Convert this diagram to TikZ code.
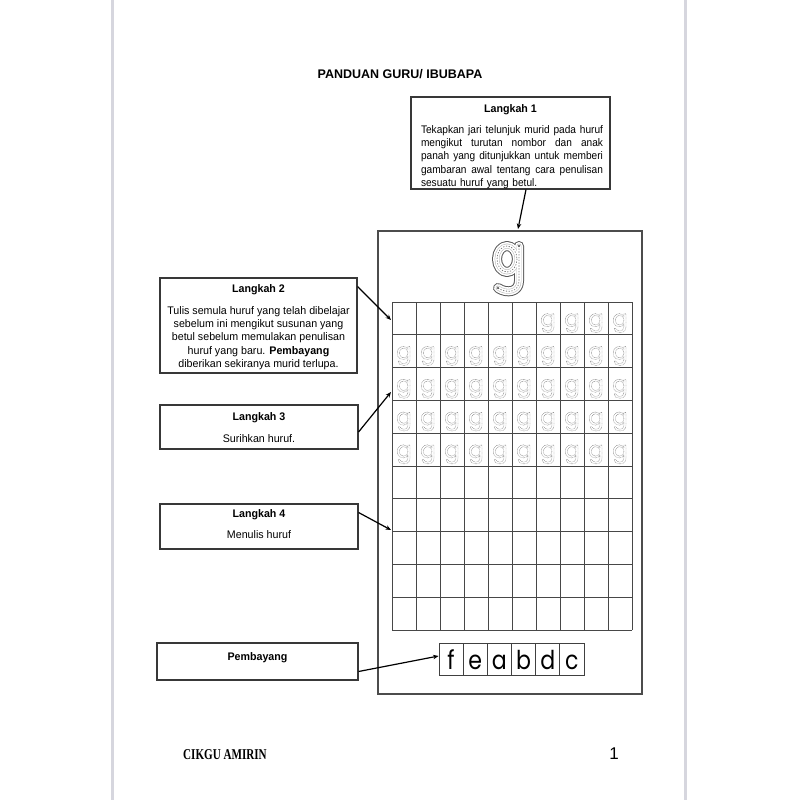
\documentclass[tikz,border=0pt]{standalone}
\usepackage{fontspec}
\setmainfont{Liberation Sans}
\newfontfamily\bodyfont[FakeStretch=0.97]{Liberation Sans}
\newfontfamily\tightfont[FakeStretch=0.92]{Liberation Sans}
\newfontfamily\letterfont[FakeStretch=0.85]{Poppins}
\newfontfamily\gfont{Poppins}
\newfontfamily\footfont{Liberation Serif}
\usetikzlibrary{arrows.meta}
\definecolor{pageedge}{RGB}{214,214,222}
\newcommand\tracedg{{\special{pdf:literal direct 1 Tr 0.45 w [0.55 0.75] 0 d 0.45 G}g\special{pdf:literal direct 0 Tr [] 0 d 0 G}}}
\newcommand\jline[1]{\makebox[182pt][s]{\spaceskip=0.25em plus 1fil\relax #1}}
\tikzset{
  infobox/.style={draw=black!78, line width=1.1pt, inner sep=0pt, fill=white},
  headtxt/.style={font=\bodyfont\fontsize{11}{13}\selectfont\bfseries, inner sep=0pt},
  bodytxt/.style={font=\bodyfont\fontsize{11}{13.2}\selectfont, inner sep=0pt},
  gridline/.style={draw=black!72, line width=0.9pt},
  connector/.style={draw=black, line width=1.2pt, -{Stealth[length=5.5pt,width=4.5pt]}},
  traceg/.style={font=\gfont\fontsize{23}{23}\selectfont, inner sep=0pt, anchor=base},
  letterbox/.style={draw=black!75, line width=0.9pt, minimum width=24.17pt, minimum height=32pt, inner sep=0pt, text height=20pt, text depth=0pt, font=\letterfont\fontsize{26}{26}\selectfont}
}
\begin{document}
\begin{tikzpicture}[x=1pt,y=-1pt]
\useasboundingbox (0,0) rectangle (800,800);
\fill[white] (0,0) rectangle (800,800);
% page edges
\draw[pageedge, line width=3pt] (112,0) -- (112,800);
\draw[pageedge, line width=3pt] (685,0) -- (685,800);

% title
\node[font=\fontsize{12.5}{14}\selectfont\bfseries, inner sep=0pt] (title) at (400,74) {PANDUAN GURU/ IBUBAPA};

% Langkah 1
\node[infobox, minimum width=199pt, minimum height=92pt] (l1) at (510.5,143) {};
\node[headtxt] (l1h) at (510.5,110) {Langkah 1};
\node[bodytxt, font=\tightfont\fontsize{11}{13.4}\selectfont, text width=182pt, align=left] (l1b) at (512,157) {%
\jline{Tekapkan jari telunjuk murid pada huruf}\\
\jline{mengikut turutan nombor dan anak}\\
\jline{panah yang ditunjukkan untuk memberi}\\
\jline{gambaran awal tentang cara penulisan}\\
sesuatu huruf yang betul.};

% Langkah 2
\node[infobox, minimum width=197pt, minimum height=95pt] (l2) at (258.5,325.5) {};
\node[headtxt] (l2h) at (258.5,290) {Langkah 2};
\node[bodytxt, align=center] (l2b) at (258.5,338) {Tulis semula huruf yang telah dibelajar\\
sebelum ini mengikut susunan yang\\
betul sebelum memulakan penulisan\\
huruf yang baru. \textbf{Pembayang}\\
diberikan sekiranya murid terlupa.};

% Langkah 3
\node[infobox, minimum width=198pt, minimum height=44pt] (l3) at (259,427) {};
\node[headtxt] (l3h) at (259,418) {Langkah 3};
\node[bodytxt] (l3b) at (259,438.5) {Surihkan huruf.};

% Langkah 4
\node[infobox, minimum width=198pt, minimum height=45pt] (l4) at (259,526.5) {};
\node[headtxt] (l4h) at (259,515) {Langkah 4};
\node[bodytxt] (l4b) at (259,535) {Menulis huruf};

% Pembayang
\node[infobox, minimum width=201pt, minimum height=37pt] (pb) at (257.5,661.5) {};
\node[headtxt] (pbh) at (257.5,658) {Pembayang};

% worksheet frame
\node[draw=black!70, line width=1.5pt, minimum width=264pt, minimum height=463pt, inner sep=0pt] (sheet) at (510,462.5) {};

% big g
\begin{scope}[line cap=round, line join=round]
\foreach \w/\c in {10/black!65, 8/white, 4.8/black!25, 3.6/white}{
  \draw[line width=\w pt, \c] (507,259) ellipse [x radius=10, y radius=13];
  \draw[line width=\w pt, \c] (519,246) -- (519,281) .. controls (519,292) and (507,294) .. (498,288);
}
\draw[line width=0.8pt, black!50, dotted] (507,259) ellipse [x radius=10, y radius=13];
\draw[line width=0.8pt, black!50, dotted] (519,246) -- (519,281) .. controls (519,292) and (507,294) .. (498,288);
\fill[black!70] (519,246) circle (1.1);
\fill[black!70] (498,288) circle (1.1);
\end{scope}

% grid
\foreach \i in {0,...,10} \draw[gridline] ({392+24*\i},302) -- ({392+24*\i},630);
\foreach \j in {0,...,10} \draw[gridline] (392,{302+32.8*\j}) -- (632,{302+32.8*\j});
\foreach \i in {6,...,9} \node[traceg] (g0\i) at ({392+24*\i+12},{302+24.5}) {\tracedg};
\foreach \j in {1,...,4} \foreach \i in {0,...,9}
  \node[traceg] (g\j\i) at ({392+24*\i+12},{302+32.8*\j+24.5}) {\tracedg};

% pembayang letters
\node[letterbox] (lf) at ({439+24.17*0.5},659) {f};
\node[letterbox] (le) at ({439+24.17*1.5},659) {e};
\node[letterbox] (la) at ({439+24.17*2.5},659) {a};
\node[letterbox] (lb) at ({439+24.17*3.5},659) {b};
\node[letterbox] (ld) at ({439+24.17*4.5},659) {d};
\node[letterbox] (lc) at ({439+24.17*5.5},659) {c};

% connectors
\coordinate (t1) at (518,229);
\coordinate (t2) at (391,320);
\coordinate (t3) at (391,392);
\coordinate (t4) at (391,530);
\draw[connector] ([xshift=15.5pt]l1.south) -- (t1);
\draw[connector] ([yshift=-9pt]l2.north east) -- (t2);
\draw[connector] ([yshift=-5pt]l3.east) -- (t3);
\draw[connector] ([yshift=14pt]l4.east) -- (t4);
\draw[connector] ([yshift=-10pt]pb.east) -- ([yshift=3pt]lf.west);

% footer
\node[anchor=west, inner sep=0pt, font=\footfont\bfseries] (foot) at (183,755) {\scalebox{0.74}[1]{\fontsize{15}{15}\selectfont CIKGU AMIRIN}};
\node[inner sep=0pt, font=\fontsize{17}{17}\selectfont] (pg) at (614,754) {1};
\end{tikzpicture}
\end{document}
